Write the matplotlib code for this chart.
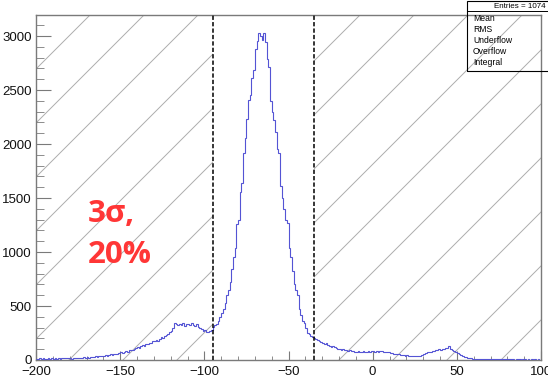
import matplotlib
matplotlib.use("Agg")
import matplotlib.pyplot as plt
import numpy as np
from matplotlib.patches import Rectangle
from matplotlib.transforms import Affine2D

# histogram, 1-unit bins from -200 to 100
edges = np.arange(-200, 101, 1)
counts = [
    12, 8, 15, 10, 14, 9, 13, 16, 11, 14,
    10, 15, 12, 18, 13, 16, 20, 14, 17, 19,
    15, 12, 18, 14, 20, 17, 22, 19, 24, 21,
    26, 23, 28, 30, 27, 33, 29, 35, 38, 34,
    40, 44, 41, 48, 52, 47, 55, 60, 58, 66,
    72, 68, 78, 82, 76, 88, 95, 90, 102, 110,
    118, 112, 126, 135, 128, 145, 152, 160, 155, 172,
    180, 188, 176, 198, 210, 205, 226, 232, 240, 255,
    268, 300, 342, 335, 320, 338, 325, 342, 318, 330,
    336, 322, 340, 328, 315, 332, 310, 298, 290, 272,
    275, 262, 258, 268, 280, 305, 322, 338, 360, 395,
    435, 475, 530, 600, 650, 720, 840, 950, 1040, 1260,
    1300, 1560, 1640, 1920, 2060, 2230, 2410, 2450, 2610, 2690,
    2880, 2950, 3030, 3000, 2965, 3030, 2945, 2790, 2715, 2400,
    2300, 2225, 2110, 1950, 1920, 1610, 1500, 1400, 1295, 1265,
    1040, 955, 820, 700, 645, 600, 470, 420, 360, 340,
    300, 250, 240, 222, 215, 205, 198, 185, 175, 170,
    160, 152, 158, 140, 132, 125, 128, 118, 112, 106,
    100, 96, 102, 94, 90, 86, 92, 84, 80, 78,
    76, 82, 78, 74, 80, 77, 72, 79, 75, 81,
    83, 78, 80, 76, 82, 79, 74, 78, 72, 70,
    66, 62, 58, 55, 60, 52, 48, 45, 42, 40,
    42, 38, 40, 36, 41, 38, 34, 36, 40, 45,
    52, 62, 70, 78, 74, 80, 86, 92, 88, 98,
    95, 104, 100, 108, 112, 126, 98, 88, 80, 70,
    62, 55, 45, 38, 30, 26, 22, 18, 15, 12,
    10, 12, 9, 11, 8, 10, 7, 9, 8, 10,
    8, 6, 9, 7, 8, 5, 7, 6, 8, 5,
    6, 7, 5, 6, 4, 7, 5, 6, 4, 5,
    5, 4, 6, 3, 5, 4, 6, 4, 5, 3,
]
cut_lo, cut_hi = -95, -35
xticks = [-200, -150, -100, -50, 0, 50, 100]
yticks = [0, 500, 1000, 1500, 2000, 2500, 3000]
stat_names = ["Mean", "RMS", "Underflow", "Overflow", "Integral"]

narrow = ['Liberation Sans Narrow', 'Liberation Sans', 'DejaVu Sans']
plt.rcParams['font.family'] = narrow

fig = plt.figure(figsize=(5.48, 3.82), dpi=100)
W, H = 505, 345
ax = fig.add_axes([36/548, 22/382, W/548, H/382])
ax.set_xlim(-200, 100)
ax.set_ylim(0, 3195)

# hatched (rejected) regions
pix = Affine2D().scale(1.0/W, 1.0/H) + ax.transAxes
clips = [Rectangle((-200, 0), cut_lo + 200, 3195, transform=ax.transData),
         Rectangle((cut_hi, 0), 100 - cut_hi, 3195, transform=ax.transData)]
for clip in clips:
    for k in range(-12, 9):
        c = 21 + 54*k
        ln, = ax.plot([-400, 900], [-400 + c, 900 + c], color='#adadad',
                      lw=0.7, transform=pix, zorder=1)
        ln.set_clip_path(clip)

ax.stairs(counts, edges, baseline=None, color='#5454d4', lw=0.8, zorder=3)
for xc in (cut_lo, cut_hi):
    ax.axvline(xc, color='black', lw=1.1, ls=(0, (2.8, 1.4)), zorder=4)

for s in ax.spines.values():
    s.set_color('#7a7a7a')
    s.set_linewidth(1.0)
ax.set_xticks(xticks)
ax.set_yticks(yticks)
ax.set_xticks(np.arange(-200, 101, 10), minor=True)
ax.set_yticks(np.arange(0, 3195, 100), minor=True)
ax.tick_params(axis='both', which='both', direction='in', color='#7a7a7a',
               labelsize=9.5, labelcolor='#111111')
ax.tick_params(axis='y', which='major', length=10.8, pad=3)
ax.tick_params(axis='y', which='minor', length=5.4)
ax.tick_params(axis='x', which='major', length=6.5, pad=4)
ax.tick_params(axis='x', which='minor', length=3.2)

# stats box (cut off at the right edge)
fig.patches.append(Rectangle((467/548, 1 - 71/382), 0.2, 70/382, fill=False,
                             ec='black', lw=0.8, transform=fig.transFigure,
                             figure=fig, zorder=5))
fig.lines.append(plt.Line2D([467/548, 1.0], [1 - 11/382, 1 - 11/382],
                            color='black', lw=0.7, transform=fig.transFigure))
fig.text(494/548, 1 - 6/382, "Entries = 1074", fontsize=5.8, va='center',
         ha='left')
for i, name in enumerate(stat_names):
    fig.text(473/548, 1 - (18.5 + 11*i)/382, name, fontsize=6.2, va='center',
             ha='left')

red = '#ff3636'
fig.text(88/548, 1 - 222/382, "3σ,", fontsize=22.5, color=red,
         fontweight='bold', family=['Open Sans', 'DejaVu Sans'], va='baseline')
fig.text(88/548, 1 - 263/382, "20%", fontsize=22.5, color=red,
         fontweight='bold', family=['Open Sans', 'DejaVu Sans'], va='baseline')

fig.savefig("out.png", dpi=100)
